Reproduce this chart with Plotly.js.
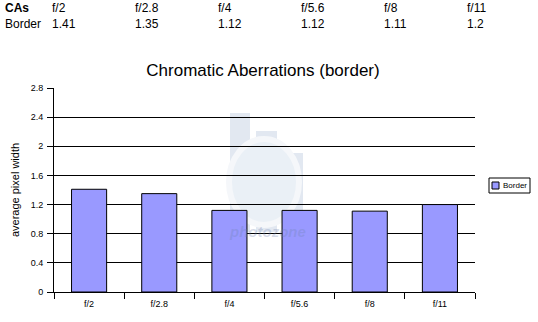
<!DOCTYPE html>
<html>
<head>
<meta charset="utf-8">
<script src="https://cdn.plot.ly/plotly-3.0.1.min.js"></script>
<style>html,body{margin:0;padding:0;background:#fff}#chart{width:538px;height:322px}</style>
</head>
<body>
<div id="chart"></div>
<script>
var categories = ["f/2", "f/2.8", "f/4", "f/5.6", "f/8", "f/11"];
var borderValues = [1.41, 1.35, 1.12, 1.12, 1.11, 1.2];
var tableLabels = ["CAs", "Border"];
var seriesName = "Border";
var yTicks = [0, 0.4, 0.8, 1.2, 1.6, 2, 2.4, 2.8];

var W = 538, H = 322, L = 54, R = 63, T = 88, B = 30;
var pw = W - L - R, ph = H - T - B;
function px(x) { return (x - L) / pw; }
function py(y) { return (H - B - y) / ph; }

var font = "Liberation Sans, Arial, sans-serif";
var barColor = "#9999FF";
var colX = [50, 133, 216, 299, 382, 465];
var annotations = [];
annotations.push({text: "<b>" + tableLabels[0] + "</b>", x: px(3), y: py(8), xref: "paper", yref: "paper", xanchor: "left", yanchor: "middle", showarrow: false, font: {size: 12, family: font, color: "#000"}});
annotations.push({text: tableLabels[1], x: px(3), y: py(24), xref: "paper", yref: "paper", xanchor: "left", yanchor: "middle", showarrow: false, font: {size: 12, family: font, color: "#000"}});
for (var i = 0; i < categories.length; i++) {
  annotations.push({text: categories[i], x: px(colX[i]), y: py(8), xref: "paper", yref: "paper", xanchor: "left", yanchor: "middle", showarrow: false, font: {size: 12, family: font, color: "#000"}});
  annotations.push({text: String(borderValues[i]), x: px(colX[i]), y: py(24), xref: "paper", yref: "paper", xanchor: "left", yanchor: "middle", showarrow: false, font: {size: 12, family: font, color: "#000"}});
}
// watermark text
annotations.push({text: "<i><b>photozone</b></i>", x: px(267), y: py(242), xref: "paper", yref: "paper", showarrow: false, font: {size: 15, family: font, color: "rgba(110,130,175,0.28)"}});
// legend
annotations.push({text: seriesName, x: px(501), y: py(185.5), xref: "paper", yref: "paper", xanchor: "left", yanchor: "middle", showarrow: false, font: {size: 8, family: font, color: "#000"}});

var wm = "#e2e8f1";
var shapes = [
  // watermark logo (behind gridlines)
  {type: "rect", xref: "paper", yref: "paper", x0: px(230), x1: px(250), y0: py(113), y1: py(232), line: {width: 0}, fillcolor: wm, layer: "below"},
  {type: "rect", xref: "paper", yref: "paper", x0: px(256), x1: px(277), y0: py(131), y1: py(232), line: {width: 0}, fillcolor: wm, layer: "below"},
  {type: "rect", xref: "paper", yref: "paper", x0: px(282), x1: px(303), y0: py(153), y1: py(232), line: {width: 0}, fillcolor: wm, layer: "below"},
  {type: "circle", xref: "paper", yref: "paper", x0: px(229), x1: px(299), y0: py(139), y1: py(225), line: {color: "#f5f7fa", width: 6}, fillcolor: "#eaf0f6", layer: "below"},
  // legend box
  {type: "rect", xref: "paper", yref: "paper", x0: px(489), x1: px(530), y0: py(178), y1: py(193), line: {color: "#000", width: 1}, fillcolor: "#fff", layer: "above"},
  {type: "rect", xref: "paper", yref: "paper", x0: px(492), x1: px(499), y0: py(182), y1: py(189), line: {color: "#000", width: 1}, fillcolor: barColor, layer: "above"}
];

var trace = {
  type: "bar",
  x: categories,
  y: borderValues,
  name: seriesName,
  marker: {color: barColor, line: {color: "#000", width: 1}},
  hoverinfo: "skip",
  showlegend: false
};

var layout = {
  width: W, height: H,
  margin: {l: L, r: R, t: T, b: B, pad: 0, autoexpand: false},
  paper_bgcolor: "#fff", plot_bgcolor: "rgba(0,0,0,0)",
  font: {family: font, color: "#000"},
  bargap: 0.5,
  showlegend: false,
  title: {text: "Chromatic Aberrations (border)", x: px(263), xref: "paper", xanchor: "center", y: 1 - 70 / H, yanchor: "middle", font: {size: 17, family: font, color: "#000"}},
  xaxis: {
    type: "category", tickson: "boundaries", ticks: "outside", ticklen: 6, tickcolor: "#000", tickwidth: 1,
    showline: true, linecolor: "#000", linewidth: 1, showgrid: false, zeroline: false, ticklabelstandoff: 3,
    tickfont: {size: 9, family: font, color: "#000"}, fixedrange: true
  },
  yaxis: {
    range: [0, 2.8], tickvals: yTicks, ticktext: yTicks.map(String), ticks: "outside", ticklen: 6, tickcolor: "#000",
    showline: true, linecolor: "#000", linewidth: 1, showgrid: true, gridcolor: "#000", gridwidth: 1, zeroline: false, ticklabelstandoff: 2,
    tickfont: {size: 9, family: font, color: "#000"},
    title: {text: "average pixel width", font: {size: 11, family: font, color: "#000"}, standoff: 8}, fixedrange: true
  },
  annotations: annotations,
  shapes: shapes
};

Plotly.newPlot("chart", [trace], layout, {displayModeBar: false, staticPlot: true});
</script>
</body>
</html>
